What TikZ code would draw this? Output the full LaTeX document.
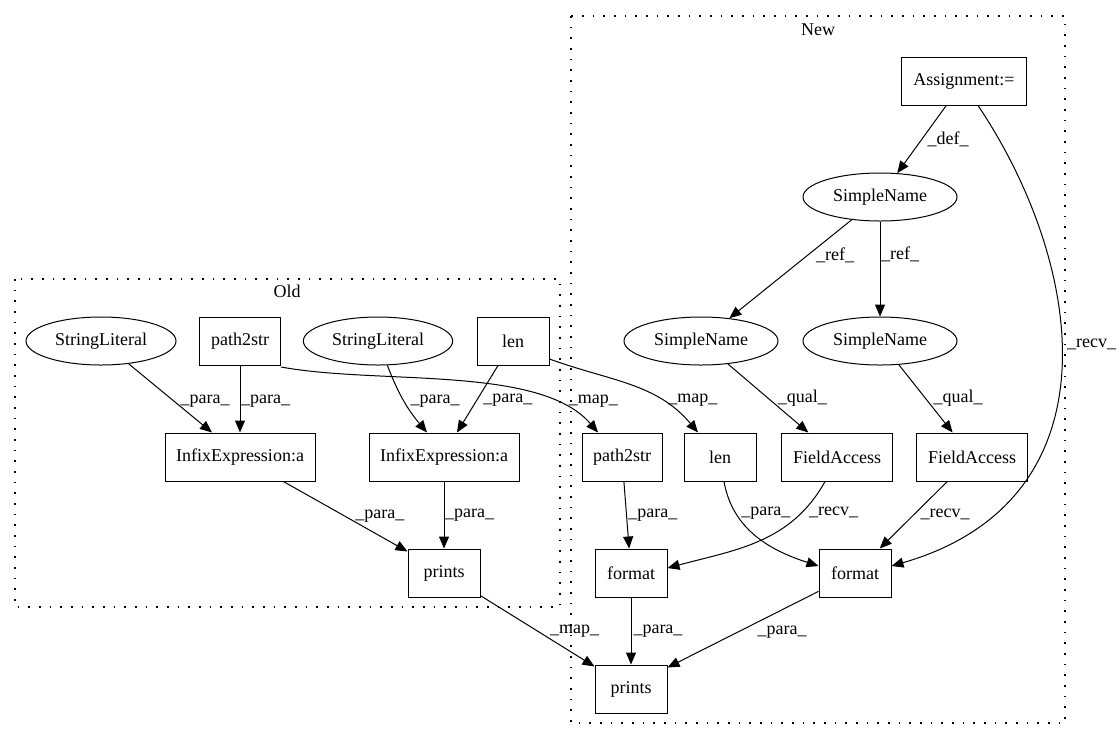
\documentclass[tikz,border=0pt]{standalone}
\usepackage{fontspec}
\setmainfont{Liberation Serif}
\usetikzlibrary{shapes,arrows.meta,positioning,calc}

\tikzset{
  box/.style={draw, rectangle, minimum height=36pt, minimum width=54pt, inner sep=0pt, line width=0.75pt},
  oval/.style={draw, ellipse, minimum height=36pt, inner sep=0pt, line width=0.75pt},
  lbl/.style={inner sep=0pt, anchor=west},
  edge/.style={-{Triangle[length=9pt,width=7.5pt]}, line width=0.75pt},
  cluster/.style={line width=1pt, dash pattern=on 1.2pt off 6.8pt}
}

\begin{document}
\begin{tikzpicture}[x=0.75pt, y=-0.75pt, font=\fontsize{13.5}{15}\selectfont]
    \useasboundingbox (0,0) rectangle (1119,740);

    % clusters
    \draw[cluster] (15,279) rectangle (560,607);
    \draw[cluster] (571,16) rectangle (1065,723);
    \node (oldTitle) at (287,291) {Old};
    \node (newTitle) at (818,30) {New};

    % old side
    \node[oval, minimum width=112.5pt] (slA) at (101,341) {StringLiteral};
    \node[box, minimum width=60.75pt] (p2sOld) at (240,341) {path2str};
    \node[oval, minimum width=112pt] (slB) at (378,341) {StringLiteral};
    \node[box] (lenOld) at (513,341) {len};
    \node[box, minimum width=112.5pt] (infA) at (240,457) {InfixExpression:a};
    \node[box, minimum width=112.5pt] (infB) at (444,457) {InfixExpression:a};
    \node[box] (prOld) at (444,573) {prints};

    % new side
    \node[box, minimum width=93.75pt] (asg) at (964,81) {Assignment:=};
    \node[oval, minimum width=115.5pt] (snTop) at (880,197) {SimpleName};
    \node[oval, minimum width=115.5pt] (snL) at (701,341) {SimpleName};
    \node[oval, minimum width=115.5pt] (snR) at (880,341) {SimpleName};
    \node[box, minimum width=60pt] (p2sNew) at (622,457) {path2str};
    \node[box] (lenNew) at (720,457) {len};
    \node[box, minimum width=83.25pt] (faA) at (837,457) {FieldAccess};
    \node[box, minimum width=83.25pt] (faB) at (972,457) {FieldAccess};
    \node[box] (fmtA) at (631,573) {format};
    \node[box] (fmtB) at (855,573) {format};
    \node[box] (prNew) at (631,689) {prints};

    % old edges
    \draw[edge] (slA) -- ($(infA.north)+(-28,0)$) node[lbl, pos=.55, xshift=4.3pt] {\_para\_};
    \draw[edge] (p2sOld) -- (infA) node[lbl, pos=.53, xshift=0.5pt] {\_para\_};
    \draw[edge] (slB) to[out=-69,in=130] node[lbl, pos=.5, xshift=4.7pt] {\_para\_} ($(infB.north)+(-17,0)$);
    \draw[edge] (lenOld) -- ($(infB.north)+(13,0)$) node[lbl, pos=.52, xshift=4.7pt] {\_para\_};
    \draw[edge] (infA) -- ($(prOld.north west)+(0,3)$) node[lbl, pos=.49, xshift=8pt] {\_para\_};
    \draw[edge] (infB) -- (prOld) node[lbl, midway, xshift=0.5pt] {\_para\_};

    % mapping
    \draw[edge] ($(p2sOld.east)+(0,26)$) .. controls (380,385) and (540,365) .. ($(p2sNew.north)+(-24,0)$) node[lbl, pos=.8, xshift=12pt] {\_map\_};
    \draw[edge] ($(lenOld.east)+(0,18)$) to[out=-20,in=130] node[lbl, pos=.72, xshift=4.5pt] {\_map\_} ($(lenNew.north)+(-22,0)$);
    \draw[edge] (prOld) -- ($(prNew.north west)+(0,2)$) node[lbl, midway, xshift=9pt] {\_map\_};

    % new edges
    \draw[edge] (asg) -- (snTop) node[lbl, midway, xshift=4pt] {\_def\_};
    \draw[edge] (snTop) -- (snL) node[lbl, pos=.36, xshift=6pt] {\_ref\_};
    \draw[edge] (snTop) -- (snR) node[lbl, pos=.35, xshift=0.5pt] {\_ref\_};
    \draw[edge] (snL) -- (faA) node[lbl, pos=.5, xshift=7pt] {\_qual\_};
    \draw[edge] (snR) -- (faB) node[lbl, pos=.49, xshift=6pt] {\_qual\_};
    \draw[edge] (p2sNew) -- (fmtA) node[lbl, midway, xshift=1pt] {\_para\_};
    \draw[edge] ($(lenNew.south)+(4,0)$) to[out=-80,in=162] node[lbl, pos=.25, xshift=3.75pt] {\_para\_} ($(fmtB.west)+(0,-7)$);
    \draw[edge] ($(faA.south)+(-12,0)$) to[out=-119,in=15] node[lbl, pos=.2, xshift=5pt] {\_recv\_} ($(fmtA.east)+(0,-5)$);
    \draw[edge] (faB) -- (fmtB) node[lbl, pos=.49, xshift=4.5pt] {\_recv\_};
    \draw[edge] ($(asg.south)+(14,0)$) .. controls (1085,265) and (1120,500) .. ($(fmtB.east)+(0,-7)$) node[lbl, pos=.45, xshift=4pt] {\_recv\_};
    \draw[edge] (fmtA) -- (prNew) node[lbl, midway, xshift=1.5pt] {\_para\_};
    \draw[edge] (fmtB) -- ($(prNew.north east)+(0,3)$) node[lbl, pos=.53, xshift=14pt] {\_para\_};
\end{tikzpicture}
\end{document}
